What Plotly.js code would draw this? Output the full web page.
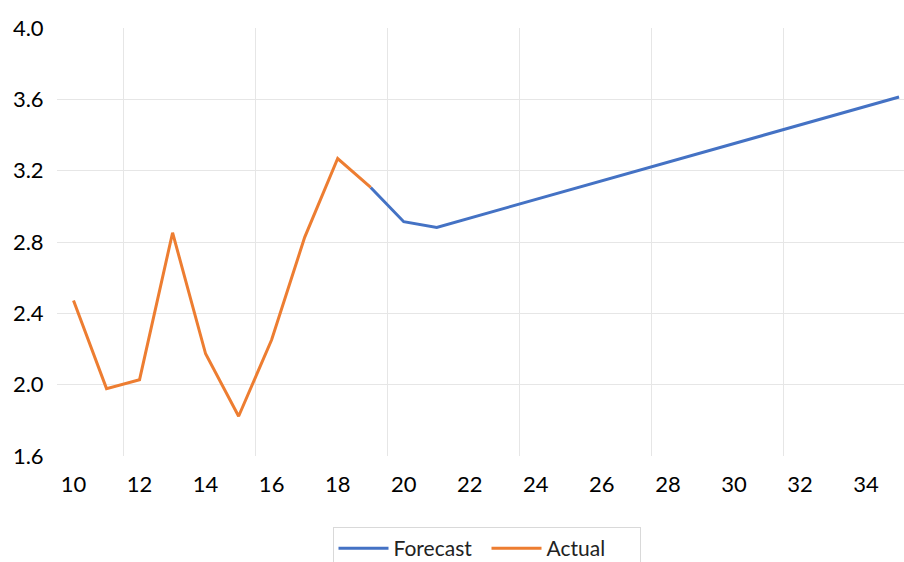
<!DOCTYPE html>
<html>
<head>
<meta charset="utf-8">
<script src="https://cdn.plot.ly/plotly-3.0.1.min.js"></script>
<style>html,body{margin:0;padding:0;background:#fff;}#chart{width:904px;height:562px;}</style>
</head>
<body>
<div id="chart"></div>
<script>
const actualX = [10, 11, 12, 13, 14, 15, 16, 17, 18, 19];
const actualY = [2.472, 1.978, 2.028, 2.852, 2.173, 1.823, 2.252, 2.826, 3.268, 3.106];
const forecastX = [19, 20, 21, 22, 23, 24, 25, 26, 27, 28, 29, 30, 31, 32, 33, 34, 35];
const forecastY = [3.106, 2.914, 2.882, 2.934, 2.986, 3.038, 3.091, 3.143, 3.195, 3.247, 3.300, 3.352, 3.404, 3.456, 3.509, 3.561, 3.613];
const xTickVals = [10, 12, 14, 16, 18, 20, 22, 24, 26, 28, 30, 32, 34];
const xGridVals = [11.5, 15.5, 19.5, 23.5, 27.5, 31.5];
const yTickVals = [1.6, 2.0, 2.4, 2.8, 3.2, 3.6, 4.0];
const yTickText = ['1.6', '2.0', '2.4', '2.8', '3.2', '3.6', '4.0'];
const yGridVals = [2.0, 2.4, 2.8, 3.2, 3.6];

const font = 'Lato, "Open Sans", sans-serif';
const traces = [
  {x: forecastX, y: forecastY, name: 'Forecast', type: 'scatter', mode: 'lines',
   line: {color: '#4472C4', width: 3}},
  {x: actualX, y: actualY, name: 'Actual', type: 'scatter', mode: 'lines',
   line: {color: '#ED7D31', width: 3}}
];
const layout = {
  width: 904, height: 562,
  margin: {l: 57, r: 0, t: 27.5, b: 105.5},
  paper_bgcolor: '#fff', plot_bgcolor: '#fff',
  font: {family: font, size: 22, color: '#000'},
  showlegend: true,
  legend: {orientation: 'h', x: 486.5 / 904, xref: 'container', xanchor: 'center',
           y: (562 - 527) / 562, yref: 'container', yanchor: 'top',
           itemwidth: 50, entrywidth: 88, entrywidthmode: 'pixels',
           bordercolor: '#d9d9d9', borderwidth: 1, font: {family: font, size: 21, color: '#222'}},
  xaxis: {range: [9.5, 35.15], tickmode: 'array', tickvals: xTickVals,
          showgrid: false, zeroline: false, showline: false,
          ticks: 'outside', ticklen: 9, tickcolor: 'rgba(0,0,0,0)',
          tickfont: {family: font, size: 22, color: '#000'},
          minor: {tickmode: 'array', tickvals: xGridVals, showgrid: true, gridcolor: '#e6e6e6', gridwidth: 1, ticks: ''}},
  yaxis: {range: [1.6, 4.0], tickmode: 'array', tickvals: yTickVals, ticktext: yTickText,
          showgrid: false, zeroline: false, showline: false,
          ticks: 'outside', ticklen: 8, tickcolor: 'rgba(0,0,0,0)',
          tickfont: {family: font, size: 22, color: '#000'},
          minor: {tickmode: 'array', tickvals: yGridVals, showgrid: true, gridcolor: '#e6e6e6', gridwidth: 1, ticks: ''}}
};
Plotly.newPlot('chart', traces, layout, {displayModeBar: false, staticPlot: true});
</script>
</body>
</html>
